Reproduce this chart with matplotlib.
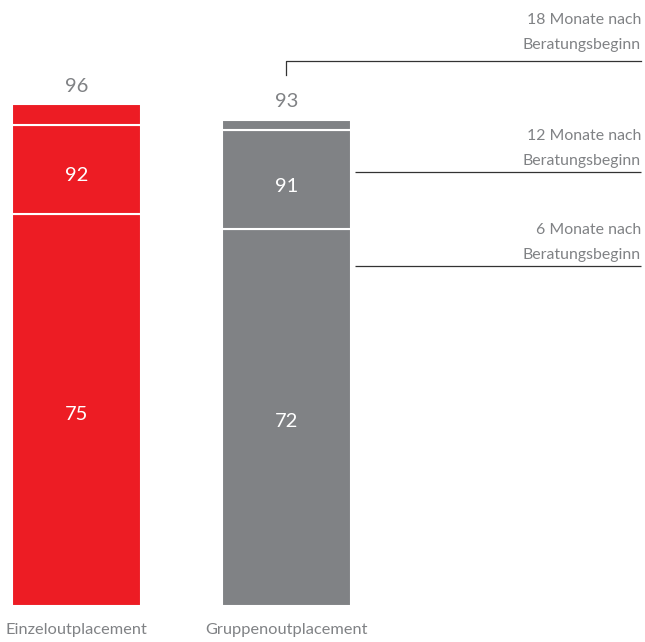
#!/usr/bin/env python3
"""Stacked bars: Verbleib nach Einzel- vs. Gruppenoutplacement."""

import matplotlib

matplotlib.use("Agg")
import matplotlib.pyplot as plt

categories = ["Einzeloutplacement", "Gruppenoutplacement"]
cum_6 = [75, 72]
cum_12 = [92, 91]
cum_18 = [96, 93]
colors = ["#ED1C24", "#808285"]
period_labels = ["6 Monate nach\nBeratungsbeginn", "12 Monate nach\nBeratungsbeginn", "18 Monate nach\nBeratungsbeginn"]
period_marks = [65, 83, 104.2]

TEXT = "#808285"
LINE = "#333333"

plt.rcParams["font.family"] = ["Lato", "DejaVu Sans"]

fig = plt.figure(figsize=(6.45, 6.42), dpi=100)
ax = fig.add_axes([0, 36 / 642, 1, 523 / 642])
ax.set_xlim(-76.5 / 210, (645 - 76.5) / 210)
ax.set_ylim(0, 100)
ax.axis("off")

x = [0, 1]
w = 129 / 210
seg_6 = cum_6
seg_12 = [b - a for a, b in zip(cum_6, cum_12)]
seg_18 = [b - a for a, b in zip(cum_12, cum_18)]

ax.bar(x, seg_6, width=w, color=colors, edgecolor="white", linewidth=1.5)
ax.bar(x, seg_12, bottom=cum_6, width=w, color=colors, edgecolor="white", linewidth=1.5)
ax.bar(x, seg_18, bottom=cum_12, width=w, color=colors, edgecolor="white", linewidth=1.5)

for i in x:
    ax.text(i, cum_6[i] / 2 - 0.8, str(cum_6[i]), ha="center", va="center", color="white", fontsize=14.5)
    ax.text(i, (cum_6[i] + cum_12[i]) / 2 - 1.2, str(cum_12[i]), ha="center", va="center",
            color="white", fontsize=14.5)
    ax.text(i, cum_18[i] + 3.4, str(cum_18[i]), ha="center", va="center", color=TEXT, fontsize=14.5)
    ax.text(i, -4.6, categories[i], ha="center", va="center", color=TEXT, fontsize=11.8, clip_on=False)

x_right = (641 - 76.5) / 210
x_left = (355 - 76.5) / 210
for lab, yv in zip(period_labels[:2], period_marks[:2]):
    ax.plot([x_left, x_right], [yv, yv], color=LINE, lw=0.9, solid_capstyle="butt")
    ax.text(x_right, yv + 0.7, lab, ha="right", va="bottom", color=TEXT, fontsize=11.4,
            linespacing=2.0)

y18 = period_marks[2]
ax.plot([1, 1, x_right], [y18 - 2.7, y18, y18], color=LINE, lw=0.9, clip_on=False)
ax.text(x_right, y18 + 1.7, period_labels[2], ha="right", va="bottom", color=TEXT, fontsize=11.4,
        linespacing=2.0, clip_on=False)

fig.savefig("out.png", dpi=100)
